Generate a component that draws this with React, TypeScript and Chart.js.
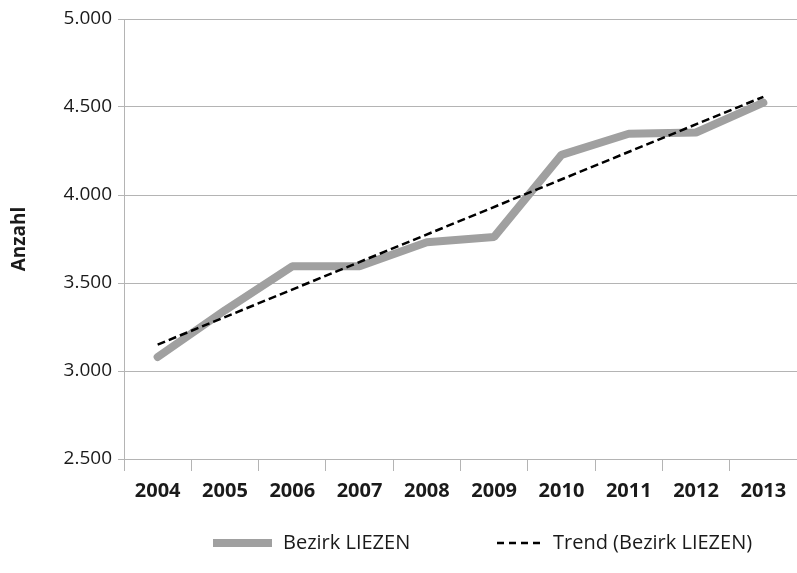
import React, { useEffect, useRef } from "react";
import { Chart, registerables } from "chart.js";

Chart.register(...registerables);

const years = ["2004", "2005", "2006", "2007", "2008", "2009", "2010", "2011", "2012", "2013"];
const bezirkValues = [3080, 3345, 3595, 3595, 3732, 3762, 4228, 4348, 4355, 4525];
const trendValues = [3150, null, null, null, null, null, null, null, null, 4558];
const yTicks = [2500, 3000, 3500, 4000, 4500, 5000];
const seriesLabels = ["Bezirk LIEZEN", "Trend (Bezirk LIEZEN)"];
const axisTitle = "Anzahl";

const GRAY = "#a0a0a0";
const GRID = "#b4b4b4";
const TEXT = "#1a1a1a";
const FONT = "'Open Sans', 'Noto Sans', sans-serif";

function fmt(v: number): string {
  const s = Math.round(v).toString();
  return s.replace(/\B(?=(\d{3})+(?!\d))/g, ".");
}

const legendPlugin = {
  id: "customLegend",
  afterDraw(chart: any) {
    const ctx = chart.ctx as CanvasRenderingContext2D;
    const y = 543;
    ctx.save();
    ctx.beginPath();
    ctx.strokeStyle = GRAY;
    ctx.lineWidth = 8;
    ctx.lineCap = "butt";
    ctx.setLineDash([]);
    ctx.moveTo(213, y);
    ctx.lineTo(272, y);
    ctx.stroke();
    ctx.font = `20px ${FONT}`;
    ctx.fillStyle = TEXT;
    ctx.textBaseline = "middle";
    ctx.textAlign = "left";
    ctx.fillText(seriesLabels[0], 283, y);
    ctx.beginPath();
    ctx.strokeStyle = "#000";
    ctx.lineWidth = 2.5;
    ctx.setLineDash([7, 5]);
    ctx.moveTo(497, y);
    ctx.lineTo(545, y);
    ctx.stroke();
    ctx.setLineDash([]);
    ctx.fillText(seriesLabels[1], 553, y);
    ctx.restore();
  },
};

export default function App() {
  const ref = useRef<HTMLCanvasElement | null>(null);
  useEffect(() => {
    document.body.style.margin = "0";
    const canvas = ref.current;
    if (!canvas) return;
    const chart = new Chart(canvas, {
      type: "line",
      data: {
        labels: years,
        datasets: [
          {
            label: seriesLabels[1],
            data: trendValues as any,
            borderColor: "#000",
            borderWidth: 2.5,
            borderDash: [8, 4],
            pointRadius: 0,
            spanGaps: true,
            fill: false,
            tension: 0,
            order: 0,
          },
          {
            label: seriesLabels[0],
            data: bezirkValues,
            borderColor: GRAY,
            borderWidth: 8,
            borderCapStyle: "round",
            borderJoinStyle: "bevel",
            pointRadius: 0,
            fill: false,
            tension: 0,
            order: 1,
          },
        ],
      },
      options: {
        responsive: false,
        animation: false,
        layout: { padding: { top: 19, right: 0, bottom: 0, left: 0 } },
        plugins: {
          legend: { display: false },
          tooltip: { enabled: false },
        },
        scales: {
          x: {
            offset: true,
            grid: {
              offset: true,
              drawOnChartArea: false,
              drawTicks: true,
              tickLength: 12,
              color: GRID,
            },
            border: { color: GRID },
            ticks: {
              color: TEXT,
              padding: 8,
              maxRotation: 0,
              font: { family: FONT, size: 20, weight: "bold" },
            },
            afterFit(scale: any) {
              scale.height = 114;
            },
          },
          y: {
            min: yTicks[0],
            max: yTicks[yTicks.length - 1],
            afterBuildTicks(scale: any) {
              scale.ticks = yTicks.map((v) => ({ value: v }));
            },
            grid: { color: GRID, tickLength: 6 },
            border: { color: GRID },
            ticks: {
              color: TEXT,
              padding: 6,
              font: { family: FONT, size: 19 },
              callback: (v: any) => fmt(Number(v)),
            },
            title: {
              display: true,
              text: axisTitle,
              color: TEXT,
              font: { family: FONT, size: 19, weight: "bold" },
              padding: { top: 8, bottom: 0 },
            },
            afterFit(scale: any) {
              scale.width = 124;
            },
          },
        },
      },
      plugins: [legendPlugin],
    });
    return () => chart.destroy();
  }, []);
  return (
    <div style={{ width: 797, height: 573, background: "#fff" }}>
      <canvas ref={ref} width={797} height={573} style={{ display: "block" }} />
    </div>
  );
}
